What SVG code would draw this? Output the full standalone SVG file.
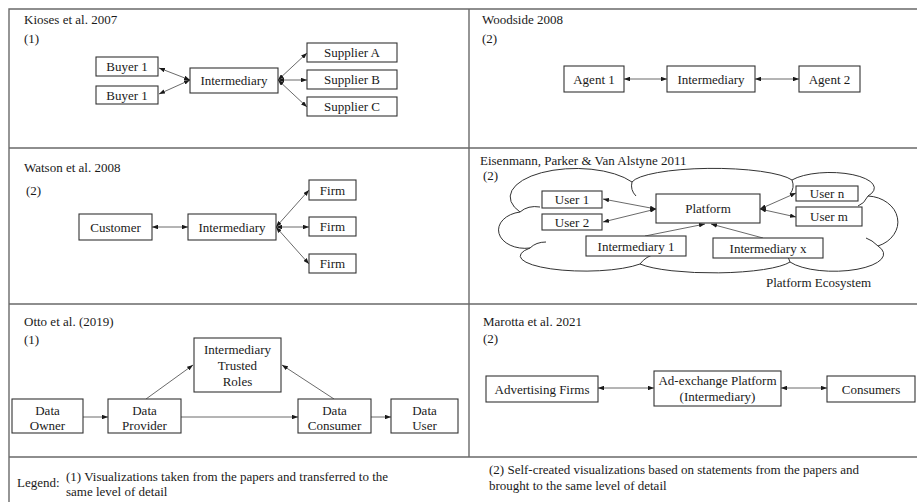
<svg xmlns="http://www.w3.org/2000/svg" width="917" height="502" viewBox="0 0 917 502">
<defs>
<marker id="ah" viewBox="0 0 8 6" refX="8" refY="3" markerWidth="6" markerHeight="4.5" orient="auto-start-reverse" markerUnits="userSpaceOnUse">
<path d="M0,0 L8,3 L0,6 z" fill="#1a1a1a"/>
</marker>
</defs>
<style>
text{font-family:"Liberation Serif","Times New Roman",serif;font-size:13px;fill:#1a1a1a}
.c{text-anchor:middle}
.box{fill:#fff;stroke:#333;stroke-width:1.1}
.frame{stroke:#6a6a6a;stroke-width:1.4;fill:none}
.bi{stroke:#444;stroke-width:0.8;fill:none;marker-start:url(#ah);marker-end:url(#ah)}
.uni{stroke:#444;stroke-width:0.8;fill:none;marker-end:url(#ah)}
.cloud{fill:#fff;stroke:#333;stroke-width:1}
</style>
<rect width="917" height="502" fill="#fff"/>
<g id="frame" class="frame">
<path d="M9,502 V9 H917"/>
<path d="M9,148 H917 M9,304 H917 M9,457 H917 M469,9 V457"/>
</g>

<g id="titles">
<text x="24" y="24">Kioses et al. 2007</text>
<text x="24" y="43">(1)</text>
<text x="482" y="24">Woodside 2008</text>
<text x="482" y="43">(2)</text>
<text x="24" y="172">Watson et al. 2008</text>
<text x="26" y="195">(2)</text>
<text x="480" y="165">Eisenmann, Parker &amp; Van Alstyne 2011</text>
<text x="483" y="180">(2)</text>
<text x="24" y="326">Otto et al. (2019)</text>
<text x="24" y="344">(1)</text>
<text x="483" y="326">Marotta et al. 2021</text>
<text x="483" y="343">(2)</text>
</g>

<g id="cloud">
<path class="cloud" d="M520,212 A60,26 0 0 1 632,182 A82,16 0 0 1 792,180 A40,14 0 0 1 868,196 A32,26 0 0 1 878,246 A46,16 0 0 1 790,262 A80,15 0 0 1 640,264 A60,14 0 0 1 530,248 A26,18 0 0 1 520,212 Z"/>
<path d="M520,212 Q528,205 540,207 M632,182 Q630,190 636,196 M792,180 Q795,188 790,194 M868,196 Q864,204 858,206 M878,246 Q872,240 866,238 M790,262 Q786,256 788,248 M640,264 Q646,256 656,254 M530,248 Q536,242 546,242" fill="none" stroke="#333" stroke-width="1"/>
<text x="766" y="287">Platform Ecosystem</text>
</g>

<g id="connectors">
<line class="bi" x1="190" y1="80" x2="159" y2="68"/>
<line class="bi" x1="190" y1="80" x2="159" y2="94"/>
<line class="bi" x1="278" y1="80" x2="307" y2="53"/>
<line class="bi" x1="278" y1="80" x2="307" y2="80"/>
<line class="bi" x1="278" y1="80" x2="307" y2="107"/>
<line class="bi" x1="624" y1="79" x2="667" y2="79"/>
<line class="bi" x1="755" y1="79" x2="799" y2="79"/>
<line class="bi" x1="152" y1="227" x2="188" y2="227"/>
<line class="bi" x1="276" y1="227" x2="309" y2="190"/>
<line class="bi" x1="276" y1="227" x2="309" y2="227"/>
<line class="bi" x1="276" y1="227" x2="309" y2="264"/>
<line class="bi" x1="656" y1="209" x2="603" y2="199"/>
<line class="bi" x1="656" y1="209" x2="603" y2="222"/>
<line class="bi" x1="760" y1="209" x2="796" y2="193"/>
<line class="bi" x1="760" y1="209" x2="796" y2="217"/>
<line class="uni" x1="645" y1="236" x2="705" y2="224"/>
<line class="uni" x1="763" y1="238" x2="711" y2="224"/>
<line class="uni" x1="83" y1="417" x2="108" y2="417"/>
<line class="uni" x1="181" y1="417" x2="298" y2="417"/>
<line class="uni" x1="371" y1="417" x2="391" y2="417"/>
<line class="uni" x1="146" y1="399" x2="193" y2="365"/>
<line class="uni" x1="334" y1="399" x2="282" y2="365"/>
<line class="bi" x1="598" y1="388" x2="654" y2="388"/>
<line class="bi" x1="781" y1="388" x2="827" y2="388"/>
</g>

<g id="kioses-buyer1a"><rect class="box" x="96" y="57" width="62" height="19"/><text class="c" x="127" y="71">Buyer 1</text></g>
<g id="kioses-buyer1b"><rect class="box" x="96" y="86" width="62" height="18"/><text class="c" x="127" y="99.5">Buyer 1</text></g>
<g id="kioses-intermediary"><rect class="box" x="190" y="68" width="88" height="25"/><text class="c" x="234" y="85">Intermediary</text></g>
<g id="kioses-supplierA"><rect class="box" x="307" y="43" width="90" height="19"/><text class="c" x="352" y="57">Supplier A</text></g>
<g id="kioses-supplierB"><rect class="box" x="307" y="70" width="90" height="19"/><text class="c" x="352" y="84">Supplier B</text></g>
<g id="kioses-supplierC"><rect class="box" x="307" y="97" width="90" height="19"/><text class="c" x="352" y="111">Supplier C</text></g>

<g id="woodside-agent1"><rect class="box" x="564" y="66" width="60" height="26"/><text class="c" x="594" y="83.5">Agent 1</text></g>
<g id="woodside-intermediary"><rect class="box" x="667" y="66" width="88" height="26"/><text class="c" x="711" y="83.5">Intermediary</text></g>
<g id="woodside-agent2"><rect class="box" x="799" y="66" width="61" height="26"/><text class="c" x="829.5" y="83.5">Agent 2</text></g>

<g id="watson-customer"><rect class="box" x="79" y="214" width="73" height="26"/><text class="c" x="115.5" y="231.5">Customer</text></g>
<g id="watson-intermediary"><rect class="box" x="188" y="214" width="88" height="26"/><text class="c" x="232" y="231.5">Intermediary</text></g>
<g id="watson-firm1"><rect class="box" x="309" y="180" width="47" height="20"/><text class="c" x="332.5" y="194.5">Firm</text></g>
<g id="watson-firm2"><rect class="box" x="309" y="217" width="47" height="19"/><text class="c" x="332.5" y="231">Firm</text></g>
<g id="watson-firm3"><rect class="box" x="309" y="254" width="47" height="19"/><text class="c" x="332.5" y="268">Firm</text></g>

<g id="eis-user1"><rect class="box" x="542" y="191" width="60" height="17"/><text class="c" x="572" y="204">User 1</text></g>
<g id="eis-user2"><rect class="box" x="542" y="214" width="60" height="16"/><text class="c" x="572" y="227">User 2</text></g>
<g id="eis-platform"><rect class="box" x="656" y="194" width="104" height="29"/><text class="c" x="708" y="213">Platform</text></g>
<g id="eis-usern"><rect class="box" x="796" y="186" width="62" height="15"/><text class="c" x="827" y="198">User n</text></g>
<g id="eis-userm"><rect class="box" x="796" y="207" width="66" height="19"/><text class="c" x="829" y="221">User m</text></g>
<g id="eis-intermediary1"><rect class="box" x="586" y="236" width="100" height="20"/><text class="c" x="636" y="250.5">Intermediary 1</text></g>
<g id="eis-intermediaryx"><rect class="box" x="713" y="238" width="110" height="20"/><text class="c" x="768" y="252.5">Intermediary x</text></g>

<g id="otto-intermediary"><rect class="box" x="194" y="338" width="87" height="54"/><text class="c" x="237.5" y="354">Intermediary</text><text class="c" x="237.5" y="370">Trusted</text><text class="c" x="237.5" y="386">Roles</text></g>
<g id="otto-owner"><rect class="box" x="12" y="399" width="71" height="34"/><text class="c" x="47.5" y="415">Data</text><text class="c" x="47.5" y="430">Owner</text></g>
<g id="otto-provider"><rect class="box" x="108" y="399" width="73" height="34"/><text class="c" x="144.5" y="415">Data</text><text class="c" x="144.5" y="430">Provider</text></g>
<g id="otto-consumer"><rect class="box" x="298" y="399" width="73" height="34"/><text class="c" x="334.5" y="415">Data</text><text class="c" x="334.5" y="430">Consumer</text></g>
<g id="otto-user"><rect class="box" x="391" y="399" width="67" height="34"/><text class="c" x="424.5" y="415">Data</text><text class="c" x="424.5" y="430">User</text></g>

<g id="marotta-adfirms"><rect class="box" x="486" y="376" width="112" height="26"/><text class="c" x="542" y="393.5">Advertising Firms</text></g>
<g id="marotta-adexchange"><rect class="box" x="654" y="371" width="127" height="35"/><text class="c" x="717.5" y="385">Ad-exchange Platform</text><text class="c" x="717.5" y="401">(Intermediary)</text></g>
<g id="marotta-consumers"><rect class="box" x="827" y="376" width="88" height="26"/><text class="c" x="871" y="393.5">Consumers</text></g>

<g id="legend">
<text x="17" y="487">Legend:</text>
<text x="66" y="481">(1) Visualizations taken from the papers and transferred to the</text>
<text x="66" y="496">same level of detail</text>
<text x="489" y="474">(2) Self-created visualizations based on statements from the papers and</text>
<text x="489" y="490">brought to the same level of detail</text>
</g>
</svg>
